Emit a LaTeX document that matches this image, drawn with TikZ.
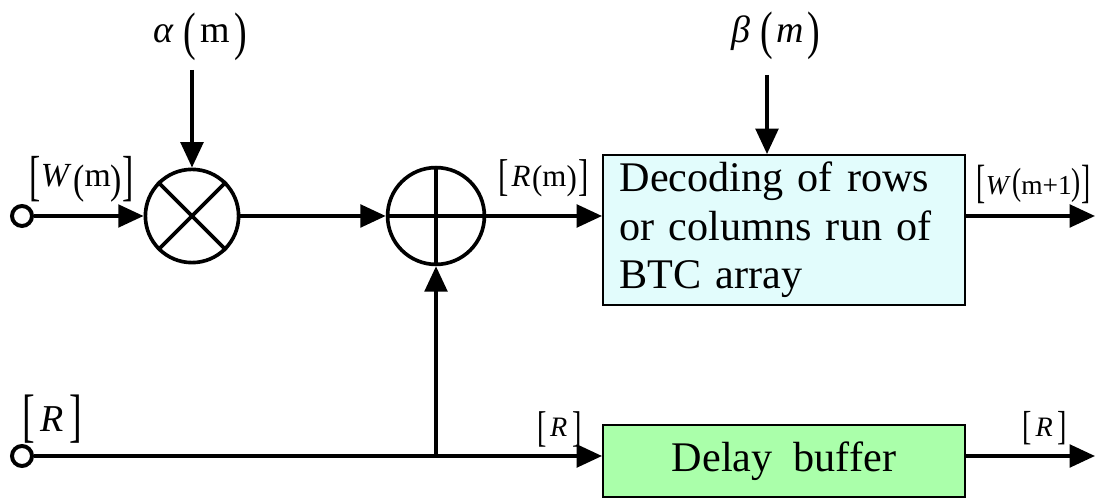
\documentclass[tikz,border=0pt]{standalone}
\usepackage{graphicx}
\usepackage{fontspec}
\setmainfont{Liberation Serif}
\usetikzlibrary{arrows.meta, calc}
\definecolor{cDeco}{HTML}{E2FCFC}
\definecolor{cDela}{HTML}{AAFFAA}
\tikzset{
    x=0.025cm, y=0.025cm,
    sig/.style={-{Triangle[length=18pt, width=16pt]}, line width=2.6pt},
    port/.style={circle, draw, line width=2.8pt, fill=white, inner sep=0pt,
                 minimum size=0.5cm},
    mixer/.style={circle, draw, line width=2.6pt, inner sep=0pt},
    blk/.style={draw, line width=1.3pt, inner ysep=0pt, inner xsep=0.42cm,
                minimum width=9.05cm, font=\fontsize{30}{34.5}\selectfont},
    lbl/.style={inner sep=0pt},
}
% tall delimiter: vertical stretch, raise, glyph
\newcommand{\dl}[3]{\raisebox{#2}{\scalebox{1}[#1]{#3}}}

\begin{document}
\begin{tikzpicture}
    \useasboundingbox (0,0) rectangle (1097,498);

    % blocks
    \node[mixer, minimum size=2.33cm] (mult) at (192,282) {};
    \draw[line width=2.6pt] (mult.45) -- (mult.225) (mult.135) -- (mult.315);
    \node[mixer, minimum size=2.42cm] (add) at (436,282) {};
    \draw[line width=2.6pt] (add.north) -- (add.south) (add.west) -- (add.east);

    \node[blk, fill=cDeco, text width=8.21cm, align=left, minimum height=3.75cm]
        (deco) at (784,268)
        {Decoding of rows\\or columns run of\\BTC array};
    \node[blk, fill=cDela, minimum height=1.8cm] (dela) at (784,37)
        {Delay\ \ buffer};

    % inputs and outputs
    \node[port] (inW) at (22,282) {};
    \node[port] (inR) at (22,42) {};
    \coordinate (aIn) at (192,428);
    \coordinate (bIn) at (767,423);
    \coordinate (oW) at (1095,282);
    \coordinate (oR) at (1095,42);

    \draw[sig] (inW.east) -- (mult.west);
    \draw[sig] (aIn) -- (mult.north);
    \draw[sig] (mult.east) -- (add.west);
    \draw[sig] (add.east) -- (add.east -| deco.west);
    \draw[sig] (bIn) -- (bIn |- deco.north);
    \draw[sig] (oW -| deco.east) -- (oW);
    \draw[sig] (inR.east) -- (inR -| dela.west);
    \draw[sig] (add.south |- inR) -- (add.south);
    \draw[sig] (oR -| dela.east) -- (oR);

    % labels
    \node[lbl, font=\fontsize{27}{32}\selectfont] (alpha) at (200,461.5)
        {\textit{α}\hspace{.25em}\dl{1.39}{-4.8pt}{(}\hspace{.12em}m\hspace{.12em}\dl{1.39}{-4.8pt}{)}};
    \node[lbl, font=\fontsize{27}{32}\selectfont] (beta) at (776,462.5)
        {\textit{β}\hspace{.25em}\dl{1.39}{-4.1pt}{(}\hspace{.1em}\textit{m}\hspace{.1em}\dl{1.39}{-4.1pt}{)}};
    \node[lbl, font=\fontsize{24}{28}\selectfont] (lW) at (81.5,318.5)
        {\dl{1.63}{-6pt}{[}\textit{W}\hspace{.05em}\dl{1.22}{-5.5pt}{(}m\dl{1.22}{-5.5pt}{)}\dl{1.63}{-6pt}{]}};
    \node[lbl, font=\fontsize{22}{26}\selectfont] (lRm) at (543.5,319.5)
        {\dl{1.44}{-3.4pt}{[}\hspace{.1em}\textit{R}\hspace{.05em}\dl{1.12}{-2.6pt}{(}m\dl{1.12}{-2.6pt}{)}\hspace{.05em}\dl{1.44}{-3.4pt}{]}};
    \node[lbl, font=\fontsize{19.5}{23}\selectfont] (lWn) at (1033.5,314)
        {\dl{1.7}{-2pt}{[}\textit{W}\hspace{.05em}\dl{1.38}{-0.3pt}{(}m+1\dl{1.38}{-0.3pt}{)}\dl{1.7}{-2pt}{]}};
    \node[lbl, font=\fontsize{27}{32}\selectfont] (lR) at (52.5,79)
        {\dl{1.54}{-2.7pt}{[}\hspace{.15em}\textit{R}\hspace{.15em}\dl{1.54}{-2.7pt}{]}};
    \node[lbl, font=\fontsize{20}{24}\selectfont] (lRd) at (559.5,68.5)
        {\dl{1.53}{-3.8pt}{[}\hspace{.12em}\textit{R}\hspace{.18em}\dl{1.53}{-3.8pt}{]}};
    \node[lbl, font=\fontsize{20}{24}\selectfont] (lRo) at (1045,69.5)
        {\dl{1.44}{-2.7pt}{[}\hspace{.12em}\textit{R}\hspace{.18em}\dl{1.44}{-2.7pt}{]}};
\end{tikzpicture}
\end{document}
